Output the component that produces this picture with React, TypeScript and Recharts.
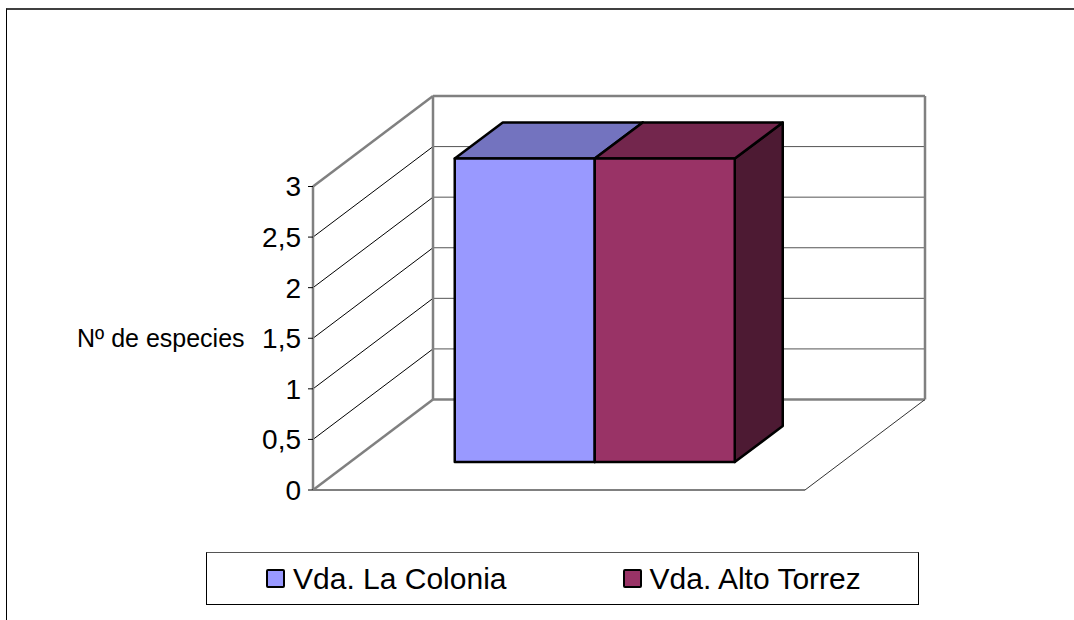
import { Bar, BarChart, CartesianGrid, Legend, XAxis, YAxis } from "recharts";

const categories = [""];
const laColonia = [3];
const altoTorrez = [3];
const yTicks = [0, 0.5, 1, 1.5, 2, 2.5, 3];

const rows = categories.map((name, i) => ({
  name,
  laColonia: laColonia[i],
  altoTorrez: altoTorrez[i],
}));

const FONT = "'Liberation Sans', Arial, sans-serif";

// Projection of the back wall relative to the front plane
const WALL_DX = 120;
const WALL_DY = 90.5;
// Bars sit part of the way into the floor, and have their own depth
const BAR_SHIFT_X = 36;
const BAR_SHIFT_Y = 28;
const BAR_DX = 48;
const BAR_DY = 36;

const FRAME = "#808080";

/* ── Floor and walls, one call per y tick ──────────────── */

function WallLine(props: any) {
  const { x1, y1, x2, y, height } = props;
  const isTop = Math.abs(y1 - y) < 1;
  const isFloor = Math.abs(y1 - (y + height)) < 1;
  const edge = isTop || isFloor;
  const bx = x1 + WALL_DX;
  const by = y1 - WALL_DY;
  return (
    <g fill="none">
      <line
        x1={x1}
        y1={y1}
        x2={bx}
        y2={by}
        stroke={edge ? FRAME : "#000"}
        strokeWidth={edge ? 2.5 : 1}
      />
      <line
        x1={bx}
        y1={by}
        x2={x2 + WALL_DX}
        y2={by}
        stroke={edge ? FRAME : "#555"}
        strokeWidth={edge ? 2.5 : 1}
      />
      {isTop && (
        <>
          <line x1={bx} y1={by} x2={bx} y2={by + height} stroke={FRAME} strokeWidth={2.5} />
          <line
            x1={x2 + WALL_DX}
            y1={by}
            x2={x2 + WALL_DX}
            y2={by + height}
            stroke={FRAME}
            strokeWidth={2.5}
          />
        </>
      )}
      {isFloor && (
        <>
          <line x1={x1} y1={y1} x2={x2} y2={y1} stroke={FRAME} strokeWidth={2} />
          <line x1={x2} y1={y1} x2={x2 + WALL_DX} y2={by} stroke="#333" strokeWidth={1} />
        </>
      )}
    </g>
  );
}

/* ── 3D bar: front, top and side faces ─────────────────── */

function Box3D(props: any) {
  const { x, y, width, height, fill, topFill, sideFill } = props;
  const l = x + BAR_SHIFT_X;
  const r = l + width;
  const t = y - BAR_SHIFT_Y;
  const b = t + height;
  return (
    <g stroke="#000" strokeWidth={2.5} strokeLinejoin="round">
      <polygon
        points={`${r},${t} ${r + BAR_DX},${t - BAR_DY} ${r + BAR_DX},${b - BAR_DY} ${r},${b}`}
        fill={sideFill}
      />
      <polygon
        points={`${l},${t} ${l + BAR_DX},${t - BAR_DY} ${r + BAR_DX},${t - BAR_DY} ${r},${t}`}
        fill={topFill}
      />
      <rect x={l} y={t} width={width} height={height} fill={fill} />
    </g>
  );
}

/* ── Boxed legend ──────────────────────────────────────── */

function LegendBox({ payload }: any) {
  return (
    <div
      style={{
        boxSizing: "border-box",
        width: 713,
        height: 53,
        border: "1px solid #000",
        borderTopColor: "#555",
        display: "flex",
        alignItems: "center",
        paddingLeft: 59,
        fontFamily: FONT,
        fontSize: 30,
        color: "#000",
      }}
    >
      {(payload ?? []).map((entry: any, i: number) => (
        <span
          key={entry.value}
          style={{ display: "flex", alignItems: "center", marginLeft: i ? 116 : 0 }}
        >
          <span
            style={{
              boxSizing: "border-box",
              width: 19,
              height: 19,
              marginRight: 8,
              background: entry.color,
              border: "2.5px solid #000",
              borderRadius: 2,
            }}
          />
          {entry.value}
        </span>
      ))}
    </div>
  );
}

export default function App() {
  return (
    <div style={{ position: "absolute", left: 0, top: 0, width: 1074, height: 620, background: "#fff" }}>
      <div
        style={{
          position: "absolute",
          left: 6,
          top: 8,
          right: 0,
          bottom: 0,
          borderTop: "2px solid #404040",
          borderLeft: "1px solid #000",
        }}
      />
      <BarChart
        width={1074}
        height={620}
        data={rows}
        margin={{ top: 186.5, right: 269, bottom: 130, left: 0 }}
        barCategoryGap={105.75}
        barGap={0}
        style={{ position: "absolute", left: 0, top: 0 }}
      >
        <CartesianGrid horizontal={WallLine} vertical={false} />
        <XAxis dataKey="name" hide />
        <YAxis
          width={313}
          domain={[0, 3]}
          ticks={yTicks}
          interval={0}
          tickSize={5}
          tickMargin={7}
          tickFormatter={(v: number) => String(v).replace(".", ",")}
          tick={{ fontSize: 28, fontFamily: FONT, fill: "#000" }}
          tickLine={{ stroke: "#000" }}
          axisLine={{ stroke: FRAME, strokeWidth: 2.5 }}
          label={{
            value: "Nº de especies",
            position: "insideLeft",
            offset: 77,
            fontSize: 25,
            fontFamily: FONT,
            fill: "#000",
          }}
        />
        <Legend
          layout="horizontal"
          verticalAlign="middle"
          align="center"
          itemSorter={null}
          wrapperStyle={{ left: 206, top: 552, width: 713, height: 53 }}
          content={<LegendBox />}
        />
        <Bar
          dataKey="laColonia"
          name="Vda. La Colonia"
          fill="#9999FF"
          isAnimationActive={false}
          shape={(p: any) => <Box3D {...p} topFill="#7373BF" sideFill="#4D4D80" />}
        />
        <Bar
          dataKey="altoTorrez"
          name="Vda. Alto Torrez"
          fill="#993366"
          isAnimationActive={false}
          shape={(p: any) => <Box3D {...p} topFill="#73264D" sideFill="#4D1A33" />}
        />
      </BarChart>
    </div>
  );
}
